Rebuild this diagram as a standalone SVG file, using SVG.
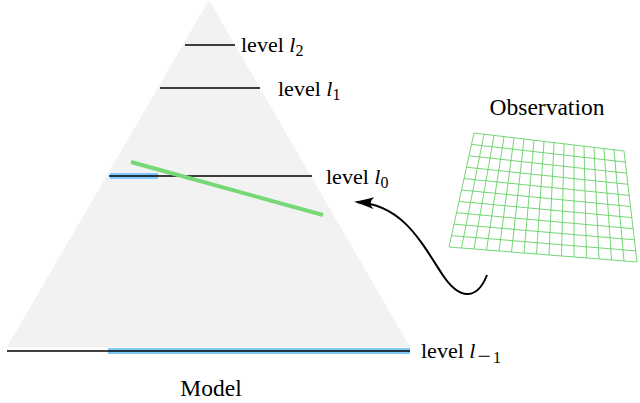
<svg xmlns="http://www.w3.org/2000/svg" width="640" height="403" viewBox="0 0 640 403">
<style>
.lv{stroke:#000;stroke-width:1.3;fill:none}
.bl{stroke:#80c8f6;stroke-width:6;fill:none}
.gr{stroke:#66d066;stroke-width:0.9;fill:none}
</style>
<defs>
<marker id="ah" viewBox="0 0 20 12" refX="17" refY="6" markerWidth="20" markerHeight="12" markerUnits="userSpaceOnUse" orient="auto">
<path d="M0,0 Q12,4 20,6 Q12,8 0,12 Q7,6 0,0 Z" fill="#000"/>
</marker>
</defs>
<g id="pyramid">
<polygon points="209,0 7,347 410,347" fill="#f2f2f2"/>
</g>
<g id="level2">
<line class="lv" x1="185" y1="45" x2="235" y2="45"/>
<text x="241" y="52" font-family="Liberation Serif, Times New Roman, serif" font-size="22" fill="#000">level <tspan font-style="italic">l</tspan><tspan font-size="16" dy="4">2</tspan></text>
</g>
<g id="level1">
<line class="lv" x1="160" y1="88" x2="260" y2="88"/>
<text x="278" y="96" font-family="Liberation Serif, Times New Roman, serif" font-size="22" fill="#000">level <tspan font-style="italic">l</tspan><tspan font-size="16" dy="4">1</tspan></text>
</g>
<g id="level0">
<line class="bl" x1="110" y1="176" x2="158" y2="176"/>
<line class="lv" x1="109" y1="176" x2="312" y2="176"/>
<text x="326" y="184" font-family="Liberation Serif, Times New Roman, serif" font-size="22" fill="#000">level <tspan font-style="italic">l</tspan><tspan font-size="16" dy="4">0</tspan></text>
</g>
<g id="levelm1">
<line class="bl" x1="108" y1="351" x2="410" y2="351"/>
<line class="lv" x1="7" y1="351" x2="410" y2="351"/>
<text x="421" y="358" font-family="Liberation Serif, Times New Roman, serif" font-size="22" fill="#000">level <tspan font-style="italic">l</tspan><tspan font-size="24" dy="6" dx="2">−</tspan><tspan font-size="16" dx="2" dy="-1">1</tspan></text>
</g>
<g id="projection">
<line x1="131" y1="162" x2="323" y2="215" stroke="#77d877" stroke-width="4"/>
</g>
<g id="model">
<text x="211" y="396" text-anchor="middle" font-family="Liberation Serif, Times New Roman, serif" font-size="23.5" fill="#000">Model</text>
</g>
<g id="observation">
<text x="547" y="115" text-anchor="middle" font-family="Liberation Serif, Times New Roman, serif" font-size="23.5" fill="#000">Observation</text>
<g class="gr">
<path d="M474.0,133.0L624.0,151.0M471.5,144.4L625.3,162.1M469.0,155.8L626.6,173.2M466.5,167.2L627.9,184.3M464.0,178.6L629.2,195.4M461.5,190.0L630.5,206.5M459.0,201.4L631.8,217.6M456.5,212.8L633.1,228.7M454.0,224.2L634.4,239.8M451.5,235.6L635.7,250.9M449.0,247.0L637.0,262.0"/>
<path d="M474.0,133.0L449.0,247.0M484.0,134.2L461.5,248.0M494.0,135.4L474.0,249.0M504.0,136.6L486.5,250.0M514.0,137.8L499.0,251.0M524.0,139.0L511.5,252.0M534.0,140.2L524.0,253.0M544.0,141.4L536.5,254.0M554.0,142.6L549.0,255.0M564.0,143.8L561.5,256.0M574.0,145.0L574.0,257.0M584.0,146.2L586.5,258.0M594.0,147.4L599.0,259.0M604.0,148.6L611.5,260.0M614.0,149.8L624.0,261.0M624.0,151.0L637.0,262.0"/>
</g>
</g>
<g id="connectors">
<path d="M487,275 C478,298 461,303 442,274 C420,240 402,205 357,202" fill="none" stroke="#000" stroke-width="2" marker-end="url(#ah)"/>
</g>
</svg>
